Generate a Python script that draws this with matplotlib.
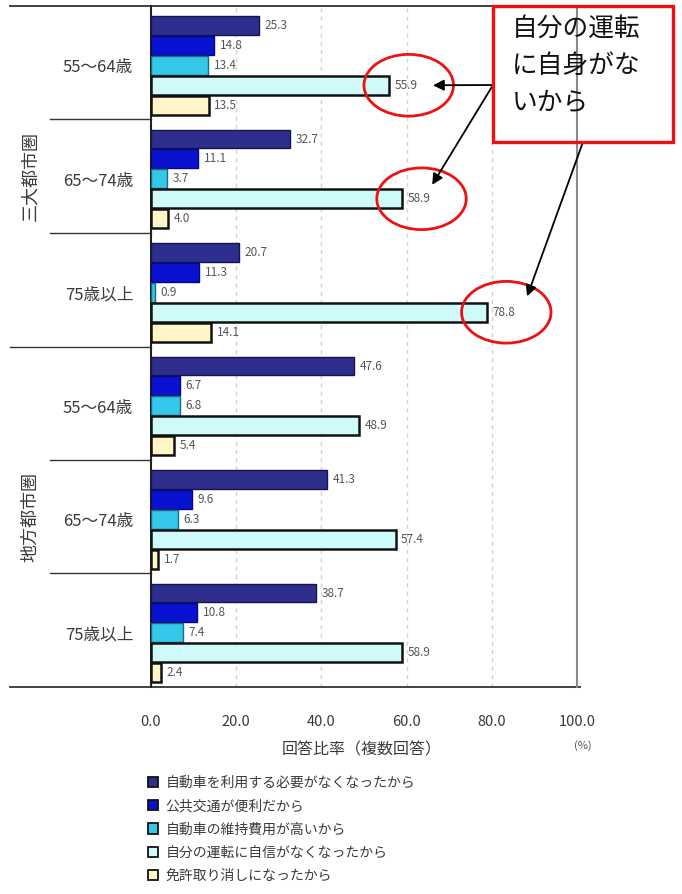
import matplotlib
matplotlib.use('Agg')
import matplotlib.pyplot as plt
from matplotlib.patches import Ellipse, Rectangle, Patch
from matplotlib.lines import Line2D
from matplotlib.transforms import blended_transform_factory

plt.rcParams['font.family'] = ['Noto Sans CJK JP', 'DejaVu Sans']

# ── Data ──────────────────────────────────────────────────────────────
REGIONS = ['三大都市圏', '地方都市圏']
AGES = ['55～64歳', '65～74歳', '75歳以上']
REASONS = [
    '自動車を利用する必要がなくなったから',
    '公共交通が便利だから',
    '自動車の維持費用が高いから',
    '自分の運転に自信がなくなったから',
    '免許取り消しになったから',
]
# order: 三大 55-64, 65-74, 75+, 地方 55-64, 65-74, 75+
no_need = [25.3, 32.7, 20.7, 47.6, 41.3, 38.7]
transit = [14.8, 11.1, 11.3, 6.7, 9.6, 10.8]
cost = [13.4, 3.7, 0.9, 6.8, 6.3, 7.4]
no_confidence = [55.9, 58.9, 78.8, 48.9, 57.4, 58.9]
revoked = [13.5, 4.0, 14.1, 5.4, 1.7, 2.4]
XTICKS = [0, 20, 40, 60, 80, 100]
HIGHLIGHT = [0, 1, 2]          # groups circled in red (三大都市圏)
NOTE = '自分の運転\nに自身がな\nいから'

# ── Style ─────────────────────────────────────────────────────────────
SERIES = [
    (no_need, '#2E2E8E', '#15154A', 1.0),
    (transit, '#0A12D2', '#05087A', 1.0),
    (cost, '#33C8EA', '#1A6A80', 1.0),
    (no_confidence, '#CFFAFA', '#111111', 1.8),
    (revoked, '#FFF5C6', '#111111', 1.8),
]
TXT = '#3A3A3A'
GH = 5.7          # rows per age group
W, H = 682, 894

fig = plt.figure(figsize=(W / 100, H / 100), dpi=100)
ax = fig.add_axes([151 / W, 1 - 687 / H, 426 / W, 681 / H])
n_groups = len(no_need)


def bar_y(g, i):
    return g * GH + 0.98 + i


for i, (vals, fc, ec, lw) in enumerate(SERIES):
    ys = [bar_y(g, i) for g in range(n_groups)]
    ax.barh(ys, vals, height=0.95, color=fc, edgecolor=ec, linewidth=lw,
            zorder=3)
    for y, v in zip(ys, vals):
        ax.text(v + 1.3, y, f'{v:.1f}', va='center', ha='left',
                fontsize=8.5, color='#555555', zorder=4)

ax.set_xlim(0, 100)
ax.set_ylim(n_groups * GH, 0)
ax.set_yticks([])
ax.set_xticks(XTICKS)
ax.set_xticklabels([f'{t:.1f}' for t in XTICKS], fontsize=10.5, color=TXT)
ax.tick_params(axis='x', length=0, pad=20)
for t in XTICKS[1:-1]:
    ax.axvline(t, color='#D2D2D2', lw=1.0, ls=(0, (3, 3)), zorder=1)
ax.spines['top'].set_visible(False)
ax.spines['bottom'].set_visible(False)
ax.spines['left'].set_color('#222222')
ax.spines['left'].set_linewidth(1.5)
ax.spines['right'].set_color('#8A8A8A')
ax.spines['right'].set_linewidth(1.5)

# ── Left-side category labels and separators ──────────────────────────
bt = blended_transform_factory(fig.transFigure, ax.transData)
for y in (0, n_groups * GH):
    ax.add_line(Line2D([10 / W, 580 / W], [y, y], transform=bt,
                       color='#333333', lw=1.3, clip_on=False))
for g in range(1, n_groups):
    x0 = 10 / W if g % 3 == 0 else 50 / W
    ax.add_line(Line2D([x0, 151 / W], [g * GH, g * GH], transform=bt,
                       color='#333333', lw=1.0, clip_on=False))
for g in range(n_groups):
    ax.text(133 / W, g * GH + 3.1, AGES[g % 3], transform=bt,
            ha='right', va='center', fontsize=12, color=TXT)
for r, name in enumerate(REGIONS):
    ax.text(30 / W, (r * 3 + 1.5) * GH, name, transform=bt, rotation=90,
            ha='center', va='center', fontsize=13, color=TXT)

# ── Axis label ────────────────────────────────────────────────────────
fig.text(362 / W, 1 - 750 / H, '回答比率（複数回答）', ha='center',
         va='center', fontsize=11.5, color=TXT)
fig.text(583 / W, 1 - 746 / H, '(%)', ha='center', va='center',
         fontsize=8, color='#555555')

# ── Legend ────────────────────────────────────────────────────────────
handles = [Patch(facecolor=fc, edgecolor='#111111', linewidth=1.3, label=lab)
           for (_, fc, _, _), lab in zip(SERIES, REASONS)]
fig.legend(handles=handles, loc='upper left',
           bbox_to_anchor=(148 / W, 1 - 776 / H), frameon=False,
           fontsize=10, handlelength=0.75, handleheight=0.75,
           handletextpad=0.5, labelspacing=0.66, labelcolor=TXT,
           borderaxespad=0, borderpad=0)

# ── Red call-out ──────────────────────────────────────────────────────
fig.add_artist(Rectangle((493 / W, 1 - 142 / H), 180 / W, 136 / H,
                         transform=fig.transFigure, fill=False,
                         edgecolor='#EE1111', linewidth=2.4))
fig.text(512 / W, 1 - 16 / H, NOTE, ha='left', va='top', fontsize=18.5,
         linespacing=1.55, color='#111111')

for g in HIGHLIGHT:
    v = no_confidence[g]
    y = bar_y(g, 3)
    ax.add_patch(Ellipse((v + 4.6, y), width=21, height=3.1, fill=False,
                         edgecolor='#EE1111', linewidth=2.0, clip_on=False,
                         zorder=5))

arrows = [
    ((no_confidence[0] + 10.3, bar_y(0, 3)), (493, 85)),
    ((no_confidence[1] + 7.1, bar_y(1, 3) - 0.7), (493, 85)),
    ((no_confidence[2] + 9.5, bar_y(2, 3) - 0.8), (583, 142)),
]
for xy, (px, py) in arrows:
    ax.annotate('', xy=xy, xycoords='data',
                xytext=(px / W, 1 - py / H), textcoords='figure fraction',
                arrowprops=dict(arrowstyle='-|>', color='black', lw=1.3,
                                mutation_scale=16, shrinkA=0, shrinkB=0),
                zorder=6)

fig.savefig('out.png', dpi=100, facecolor='white')
